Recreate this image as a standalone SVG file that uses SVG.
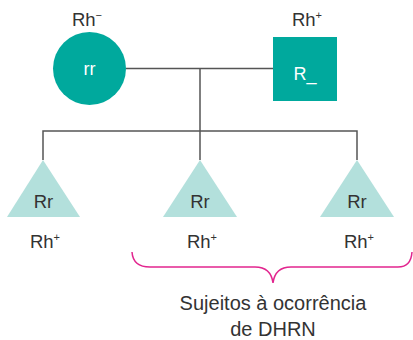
<svg xmlns="http://www.w3.org/2000/svg" width="413" height="340" viewBox="0 0 413 340">
<style>
text{font-family:"Liberation Sans","Open Sans",sans-serif;fill:#333;text-anchor:middle}
.lbl{font-size:18.5px}
.sup{font-size:11px}
.in{font-size:18px;fill:#fff}
.cap{font-size:20px}
.tri{fill:#b3e0dc}
.par{fill:#00a99d}
.ln{stroke:#555;stroke-width:1.5;fill:none}
.br{stroke:#e2268f;stroke-width:1.5;fill:none}
</style>
<rect width="413" height="340" fill="#fff"/>
<g id="connectors">
<path class="ln" d="M126 68.5H273"/>
<path class="ln" d="M200 68.5V160"/>
<path class="ln" d="M43 160V131H357V160"/>
</g>
<g id="mother">
<circle class="par" cx="89.5" cy="68.5" r="36.5"/>
<text class="in" x="89.5" y="75">rr</text>
<text class="lbl" x="87" y="26">Rh<tspan class="sup" dy="-7">−</tspan></text>
</g>
<g id="father">
<rect class="par" x="273" y="37" width="64" height="64"/>
<text class="in" x="305" y="80">R_</text>
<text class="lbl" x="307" y="26">Rh<tspan class="sup" dy="-7">+</tspan></text>
</g>
<g id="child1">
<polygon class="tri" points="43,160 80,217 7,217"/>
<text class="lbl" x="43.5" y="208">Rr</text>
<text class="lbl" x="45" y="248">Rh<tspan class="sup" dy="-7">+</tspan></text>
</g>
<g id="child2">
<polygon class="tri" points="200,160 237,217 163,217"/>
<text class="lbl" x="200" y="208">Rr</text>
<text class="lbl" x="202" y="248">Rh<tspan class="sup" dy="-7">+</tspan></text>
</g>
<g id="child3">
<polygon class="tri" points="357,160 394,217 320,217"/>
<text class="lbl" x="357" y="208">Rr</text>
<text class="lbl" x="359" y="248">Rh<tspan class="sup" dy="-7">+</tspan></text>
</g>
<g id="brace">
<path class="br" d="M132 252Q133 267 150 267H255Q271 267 273 283Q275 267 291 267H398Q411 267 412 252"/>
<text class="cap" x="273" y="310">Sujeitos à ocorrência</text>
<text class="cap" x="273" y="336">de DHRN</text>
</g>
</svg>
